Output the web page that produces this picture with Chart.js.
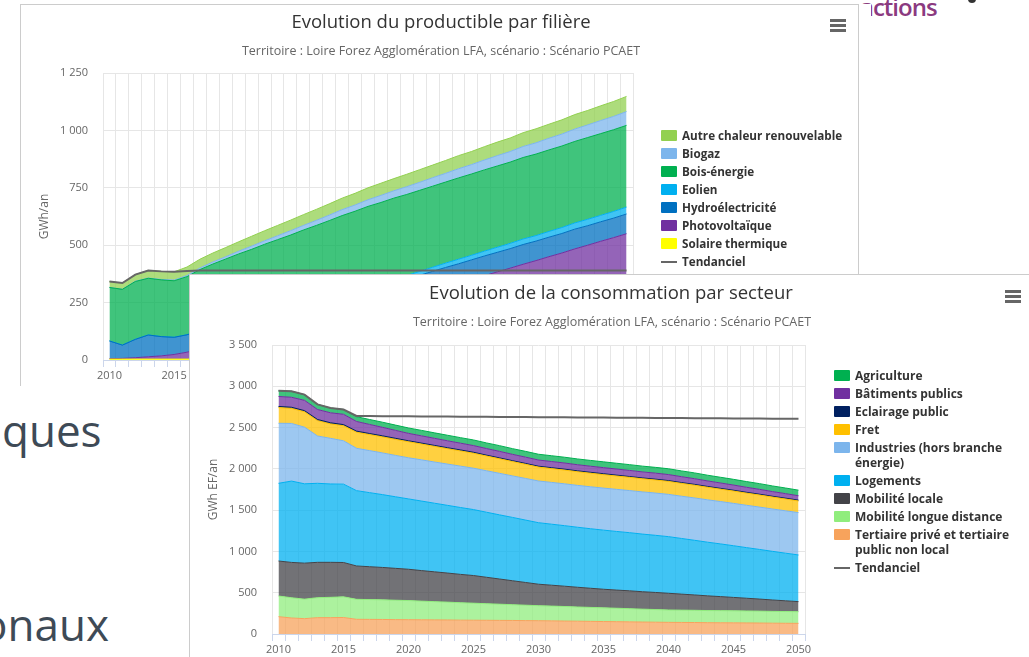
<!DOCTYPE html>
<html lang="fr">
<head>
<meta charset="utf-8">
<title>Productible et consommation – Loire Forez Agglomération</title>
<script src="https://cdn.jsdelivr.net/npm/chart.js@4.4.1/dist/chart.umd.min.js"></script>
<style>
  html, body { margin: 0; padding: 0; width: 1029px; height: 657px; overflow: hidden; background: #fff; }
  body { position: relative; font-family: "Open Sans", sans-serif; }

  .slide { position: absolute; color: #3e4a56; font-size: 44px; line-height: 1; white-space: nowrap; }
  #txtQues { left: 2px; top: 408px; }
  #txtOnaux { left: -19px; top: 602px; }
  #txtActions { left: 860px; top: -5px; font-size: 24px; font-weight: 600; letter-spacing: -1px; color: #8b3a80; }
  .dot { position: absolute; left: 968px; top: -5px; width: 8px; height: 8px; border-radius: 50%; background: #333; }

  .card { position: absolute; background: #fff; border: 1px solid #cccccc; }
  #prodCard { left: 20px; top: 4px; width: 837px; height: 381px; border-bottom: none; z-index: 1; box-shadow: 12px 0 0 0 #fff; }
  #consoCard { left: 189px; top: 274px; width: 860px; height: 400px; border-right: none; border-bottom: none; z-index: 2; }
  .card canvas { position: absolute; left: 0; top: 0; }

  .title { position: absolute; transform: translateX(-50%); white-space: nowrap; font-size: 18.5px; line-height: 18px; color: #333; }
  .subtitle { position: absolute; transform: translateX(-50%); white-space: nowrap; font-size: 12.5px; line-height: 12px; color: #666; }
  #prodTitle { left: 420px; top: 7px; }
  #prodSub { left: 420px; top: 40px; }
  #consoTitle { left: 421px; top: 8px; }
  #consoSub { left: 422px; top: 41px; }

  .menu { position: absolute; width: 16px; }
  .menu span { display: block; height: 3px; margin-bottom: 2px; background: #666; }
  #prodMenu { left: 809px; top: 14px; }
  #consoMenu { left: 815px; top: 15px; }

  .legend { position: absolute; font: bold 12px/15px "Open Sans", sans-serif; color: #333; }
  .legend .item { position: relative; padding-left: 21px; margin-bottom: 3px; }
  .legend .sym { position: absolute; left: 0; top: 2px; width: 16px; height: 11px; border-radius: 1px; }
  .legend .sym.line { top: 7px; height: 2px; border-radius: 0; }
  #prodLegend { left: 640px; top: 123px; width: 200px; font-size: 11.7px; }
  #consoLegend { left: 644px; top: 93px; width: 186px; }
</style>
</head>
<body>

<div class="slide" id="txtActions">actions</div>
<div class="dot"></div>
<div class="slide" id="txtQues">ques</div>
<div class="slide" id="txtOnaux">onaux</div>

<div class="card" id="prodCard">
  <canvas id="prodChart" width="837" height="381"></canvas>
  <div class="title" id="prodTitle">Evolution du productible par filière</div>
  <div class="subtitle" id="prodSub">Territoire : Loire Forez Agglomération LFA, scénario : Scénario PCAET</div>
  <div class="menu" id="prodMenu"><span></span><span></span><span></span></div>
  <div class="legend" id="prodLegend"></div>
</div>

<div class="card" id="consoCard">
  <canvas id="consoChart" width="839" height="385"></canvas>
  <div class="title" id="consoTitle">Evolution de la consommation par secteur</div>
  <div class="subtitle" id="consoSub">Territoire : Loire Forez Agglomération LFA, scénario : Scénario PCAET</div>
  <div class="menu" id="consoMenu"><span></span><span></span><span></span></div>
  <div class="legend" id="consoLegend"></div>
</div>

<script>
const years = [
  "2010", "2011", "2012", "2013", "2014", "2015", "2016", "2017", "2018", "2019",
  "2020", "2021", "2022", "2023", "2024", "2025", "2026", "2027", "2028", "2029",
  "2030", "2031", "2032", "2033", "2034", "2035", "2036", "2037", "2038", "2039",
  "2040", "2041", "2042", "2043", "2044", "2045", "2046", "2047", "2048", "2049", "2050",
];
const yearTicks = ["2010", "2015", "2020", "2025", "2030", "2035", "2040", "2045", "2050"];

// Productible par filière, GWh/an (pile du bas vers le haut)
const solaireThermique = [4, 4, 4, 4, 4, 4, 4, 5, 5, 5, 5, 5, 5, 5, 5, 5, 6, 6, 6, 6, 6, 6, 6, 6, 6, 6, 7, 7, 7, 7, 7, 7, 7, 7, 7, 7, 8, 8, 8, 8, 8];
const photovoltaique = [2, 3, 6, 10, 14, 20, 30, 43, 56, 69, 82, 95, 108, 121, 134, 147, 160, 173, 186, 199, 212, 228, 245, 261, 278, 294, 311, 327, 344, 360, 377, 393, 410, 426, 443, 459, 476, 492, 509, 525, 542];
const hydroelectricite = [77, 58, 80, 95, 84, 75, 76, 79, 82, 84, 85, 85, 86, 85, 85, 86, 85, 85, 86, 85, 85, 85, 86, 85, 85, 86, 85, 85, 85, 86, 85, 85, 86, 85, 85, 85, 86, 85, 85, 85, 86];
const eolien = [0, 0, 0, 0, 0, 0, 0, 1, 2, 3, 4, 5, 6, 7, 8, 9, 10, 11, 12, 13, 14, 15, 16, 16, 17, 18, 19, 20, 20, 21, 22, 23, 24, 24, 25, 26, 27, 28, 28, 29, 30];
const boisEnergie = [233, 243, 252, 247, 247, 246, 253, 266, 273, 279, 286, 292, 299, 306, 312, 319, 325, 332, 339, 345, 352, 352, 352, 353, 353, 353, 353, 354, 354, 354, 354, 354, 355, 355, 355, 355, 355, 356, 356, 356, 356];
const biogaz = [0, 0, 1, 1, 2, 3, 5, 7, 9, 10, 12, 14, 15, 17, 19, 20, 22, 24, 26, 27, 29, 31, 32, 34, 35, 37, 38, 40, 41, 43, 45, 46, 48, 49, 51, 52, 54, 55, 57, 58, 60];
const autreChaleur = [26, 27, 29, 33, 35, 36, 37, 38, 39, 40, 41, 43, 44, 45, 46, 47, 48, 49, 50, 51, 52, 53, 53, 54, 55, 55, 56, 57, 57, 58, 59, 59, 60, 61, 61, 62, 63, 63, 64, 65, 66];
const prodTendanciel = [342, 335, 372, 390, 386, 384, 388, 390, 390, 390, 390, 390, 390, 390, 390, 390, 390, 390, 390, 390, 390, 390, 390, 390, 390, 390, 390, 390, 390, 390, 390, 390, 390, 390, 390, 390, 390, 390, 390, 390, 390];
const prodTicks = [0, 250, 500, 750, 1000, 1250];

// Consommation par secteur, GWh EF/an (pile du bas vers le haut)
const tertiaire = [210, 194, 186, 198, 198, 200, 178, 177, 176, 174, 173, 172, 171, 170, 168, 167, 166, 165, 164, 162, 161, 159, 157, 155, 153, 151, 149, 147, 145, 143, 141, 140, 139, 137, 136, 135, 134, 133, 131, 130, 129];
const mobLongue = [250, 245, 236, 242, 246, 250, 242, 240, 238, 235, 232, 226, 221, 216, 211, 206, 201, 196, 191, 187, 182, 179, 176, 172, 169, 166, 163, 160, 156, 153, 150, 149, 148, 147, 147, 146, 145, 144, 143, 142, 141];
const mobLocale = [424, 428, 436, 428, 424, 416, 404, 398, 392, 386, 379, 370, 361, 352, 343, 335, 320, 305, 290, 275, 260, 253, 246, 239, 232, 225, 220, 216, 211, 207, 202, 194, 186, 178, 170, 162, 154, 146, 138, 130, 122];
const logements = [941, 985, 961, 957, 949, 949, 912, 897, 882, 867, 852, 842, 831, 820, 810, 799, 788, 777, 767, 756, 745, 739, 733, 727, 721, 716, 710, 704, 698, 692, 686, 674, 662, 650, 638, 626, 613, 601, 589, 577, 565];
const industries = [727, 698, 686, 573, 553, 525, 513, 509, 505, 501, 498, 499, 499, 500, 501, 501, 502, 503, 503, 504, 505, 506, 507, 507, 508, 509, 510, 510, 511, 512, 512, 512, 513, 513, 513, 513, 513, 513, 513, 513, 513];
const fret = [190, 182, 186, 186, 174, 182, 194, 194, 194, 194, 194, 191, 189, 186, 184, 181, 178, 176, 173, 171, 168, 167, 166, 165, 164, 163, 161, 160, 159, 158, 157, 155, 154, 152, 150, 149, 147, 146, 144, 143, 141];
const eclairage = [14, 14, 14, 14, 14, 14, 14, 13, 13, 13, 12, 12, 12, 12, 12, 12, 11, 11, 11, 11, 11, 11, 11, 11, 11, 11, 11, 10, 10, 10, 10, 10, 10, 10, 10, 10, 10, 10, 10, 10, 10];
const batiments = [121, 121, 125, 121, 121, 125, 117, 110, 103, 96, 90, 88, 86, 84, 82, 81, 80, 79, 77, 76, 75, 75, 75, 74, 74, 74, 74, 74, 73, 73, 73, 71, 69, 67, 65, 63, 61, 59, 57, 55, 53];
const agriculture = [70, 72, 69, 62, 58, 58, 58, 60, 62, 64, 65, 66, 66, 67, 67, 68, 68, 69, 69, 70, 70, 70, 70, 70, 70, 70, 70, 70, 70, 70, 70, 70, 70, 69, 69, 69, 69, 69, 68, 68, 68];
const consoTendanciel = [2947, 2939, 2899, 2781, 2737, 2719, 2640, 2639, 2638, 2637, 2636, 2635, 2634, 2633, 2632, 2631, 2630, 2629, 2628, 2627, 2626, 2625, 2624, 2623, 2622, 2621, 2620, 2619, 2618, 2617, 2616, 2615, 2614, 2613, 2612, 2611, 2610, 2609, 2608, 2607, 2606];
const consoTicks = [0, 500, 1000, 1500, 2000, 2500, 3000, 3500];

const prodSeries = [
  ["Solaire thermique", solaireThermique, "#ffff00"],
  ["Photovoltaïque", photovoltaique, "#7030a0"],
  ["Hydroélectricité", hydroelectricite, "#0070c0"],
  ["Eolien", eolien, "#00b0f0"],
  ["Bois-énergie", boisEnergie, "#00b050"],
  ["Biogaz", biogaz, "#7cb5ec"],
  ["Autre chaleur renouvelable", autreChaleur, "#92d050"],
];

const consoSeries = [
  ["Tertiaire privé et tertiaire public non local", tertiaire, "#f7a35c"],
  ["Mobilité longue distance", mobLongue, "#90ed7d"],
  ["Mobilité locale", mobLocale, "#434348"],
  ["Logements", logements, "#00b0f0"],
  ["Industries (hors branche énergie)", industries, "#7cb5ec"],
  ["Fret", fret, "#ffc000"],
  ["Eclairage public", eclairage, "#002060"],
  ["Bâtiments publics", batiments, "#7030a0"],
  ["Agriculture", agriculture, "#00b050"],
];

const trendColor = "#666666";

Chart.defaults.font.family = '"Open Sans", sans-serif';
Chart.defaults.color = "#666666";

function withAlpha(hex, a) {
  const n = parseInt(hex.slice(1), 16);
  return `rgba(${n >> 16}, ${(n >> 8) & 255}, ${n & 255}, ${a})`;
}

function thousands(v) {
  return String(v).replace(/\B(?=(\d{3})+(?!\d))/g, " ");
}

function stackedAreaChart(canvasId, series, trend, yTicks, yTitle, area) {
  const canvas = document.getElementById(canvasId);

  const datasets = series.map(([label, data, color], i) => ({
    label,
    data,
    stack: "secteurs",
    borderColor: color,
    backgroundColor: withAlpha(color, 0.75),
    borderWidth: 1,
    fill: i === 0 ? "origin" : "-1",
    pointRadius: 0,
  }));

  // order -1 puts the trend line on top of the areas
  datasets.push({
    label: "Tendanciel",
    data: trend,
    stack: "tendanciel",
    order: -1,
    borderColor: trendColor,
    borderWidth: 2,
    fill: false,
    pointRadius: 0,
  });

  return new Chart(canvas, {
    type: "line",
    data: { labels: years, datasets },
    options: {
      responsive: false,
      animation: false,
      events: [],
      elements: { line: { tension: 0 } },
      layout: {
        padding: { left: 8, top: area.top, right: canvas.width - area.right, bottom: 0 },
      },
      plugins: {
        legend: { display: false },
        tooltip: { enabled: false },
      },
      scales: {
        x: {
          offset: true,
          grid: { offset: true, color: "#e6e6e6", tickColor: "#ccd6eb", tickLength: 7 },
          border: { color: "#ccd6eb" },
          ticks: {
            autoSkip: false,
            maxRotation: 0,
            padding: 2,
            font: { size: 11 },
            callback(value) {
              const label = this.getLabelForValue(value);
              return yearTicks.includes(label) ? label : "";
            },
          },
          afterFit(scale) { scale.height = 26; },
        },
        y: {
          stacked: true,
          min: 0,
          max: yTicks[yTicks.length - 1],
          afterBuildTicks(scale) { scale.ticks = yTicks.map((v) => ({ value: v })); },
          grid: { color: "#e6e6e6", drawTicks: false },
          border: { display: false },
          ticks: { padding: 15, font: { size: 11 }, callback: (v) => thousands(v) },
          title: { display: true, text: yTitle, font: { size: 12 }, padding: { top: 8, bottom: 0 } },
          afterFit(scale) { scale.width = 74; },
        },
      },
    },
  });
}

function buildLegend(chart, box) {
  // top of the stack first, trend line last
  const sets = chart.data.datasets;
  const areas = sets.filter((ds) => ds.fill !== false).reverse();
  const lines = sets.filter((ds) => ds.fill === false);
  areas.concat(lines).forEach((ds) => {
    const item = document.createElement("div");
    item.className = "item";
    const sym = document.createElement("span");
    sym.className = ds.fill === false ? "sym line" : "sym";
    sym.style.background = ds.borderColor;
    item.appendChild(sym);
    item.appendChild(document.createTextNode(ds.label));
    box.appendChild(item);
  });
}

const prodChart = stackedAreaChart("prodChart", prodSeries, prodTendanciel, prodTicks, "GWh/an", { top: 68, right: 612 });
const consoChart = stackedAreaChart("consoChart", consoSeries, consoTendanciel, consoTicks, "GWh EF/an", { top: 70, right: 615 });

buildLegend(prodChart, document.getElementById("prodLegend"));
buildLegend(consoChart, document.getElementById("consoLegend"));
</script>
</body>
</html>
